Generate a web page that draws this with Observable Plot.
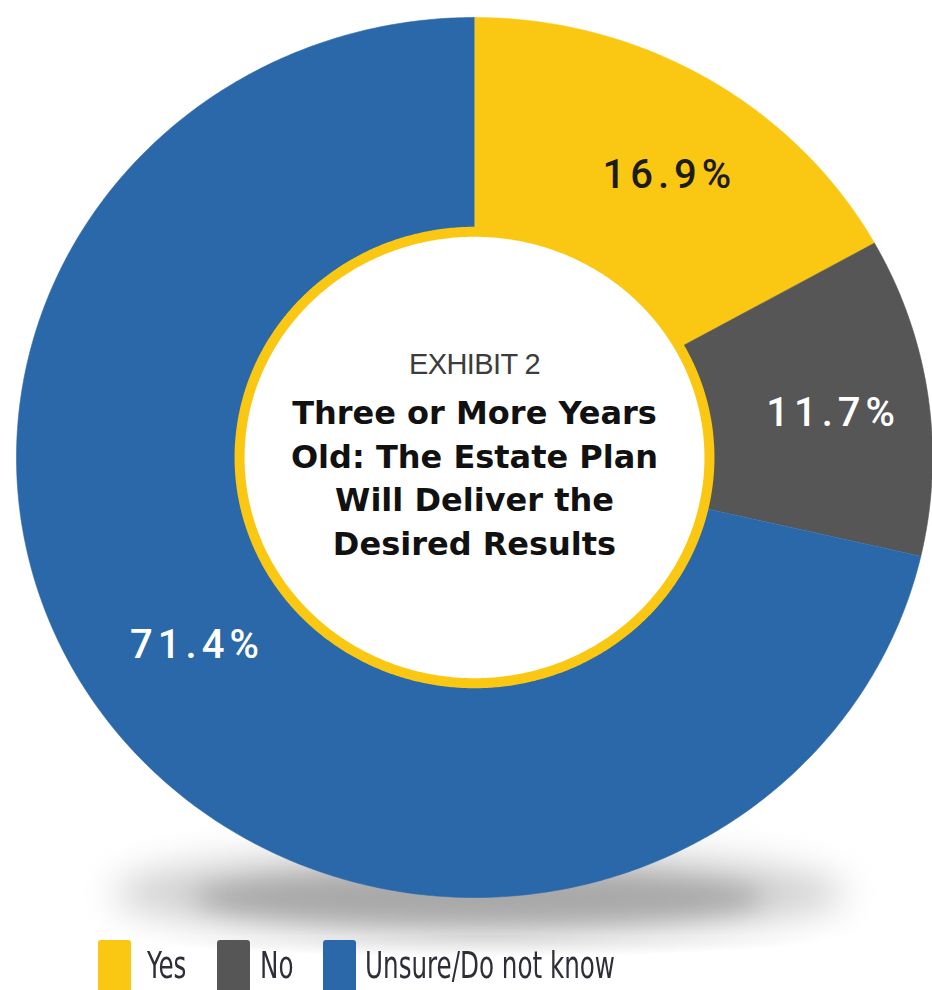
<!DOCTYPE html>
<html><head><meta charset="utf-8">
<script src="https://cdn.jsdelivr.net/npm/d3@7"></script>
<script src="https://cdn.jsdelivr.net/npm/@observablehq/plot@0.6"></script>
<style>
html,body{margin:0;padding:0;background:#fff;width:932px;height:990px;overflow:hidden;}
#chart{position:relative;width:932px;height:935px;}
#legend{position:relative;width:932px;height:55px;overflow:hidden;background:radial-gradient(ellipse 360px 22px at 482px 0px,#d4d4d4,#ffffff);}
.sw{position:absolute;top:5px;width:33px;height:52px;border-radius:3px;}
.lt{position:absolute;top:11px;font-family:"Liberation Sans Narrow","DejaVu Sans Condensed",sans-serif;font-size:38px;line-height:38px;color:#2e2e38;transform:scaleX(0.72);transform-origin:0 0;white-space:nowrap;}
</style></head><body>
<div id="chart"></div><div id="legend"></div>
<script>
// ---- data ----
const categories = ["Yes", "No", "Unsure/Do not know"];
const shares = [16.9, 11.7, 71.4];
const shareLabels = ["16.9%", "11.7%", "71.4%"];
const kicker = "EXHIBIT 2";
const titleLines = ["Three or More Years", "Old: The Estate Plan", "Will Deliver the", "Desired Results"];
// ---- styles ----
const colors = ["#FAC713", "#565656", "#2B68A9"];
const labelColors = ["#1c1c1c", "#ffffff", "#ffffff"];

const total = d3.sum(shares);
const bounds = [0, ...d3.cumsum(shares)].map(v => v / total * 2 * Math.PI);
const slices = categories.map((c, i) => ({cat: c, a0: bounds[i], a1: bounds[i + 1], value: shares[i], label: shareLabels[i]}));

function arc(a0, a1, rx, ry, cx = 0, cy = 0) {
  const n = Math.max(2, Math.ceil((a1 - a0) / (Math.PI / 360)));
  return d3.range(n + 1).map(k => {
    const a = a0 + (a1 - a0) * k / n;
    return {x: cx + rx * Math.sin(a), y: cy + ry * Math.cos(a)};
  });
}
const slicePolys = slices.map(s => [{x: 0, y: 0}, ...arc(s.a0, s.a1, 1, 1)]);
const innerRing = arc(0, 2 * Math.PI, 0.513, 0.513);
const shadowOuter = arc(0, 2 * Math.PI, 0.80, 0.10, 0.01, -0.99);
const shadowInner = arc(0, 2 * Math.PI, 0.62, 0.06, 0.01, -1.0);

const mid = s => (s.a0 + s.a1) / 2;
const lr = 0.78;
const lx = s => lr * Math.sin(mid(s));
const ly = s => lr * Math.cos(mid(s));
const pctStyle = {x: lx, y: ly, text: "label", fontSize: 40, fontFamily: "Roboto, 'Liberation Sans', sans-serif", fontWeight: 500};

const plot = Plot.plot({
  width: 932, height: 935, margin: 0,
  x: {domain: [-1, 1], range: [16, 932], axis: null},
  y: {domain: [-1, 1], range: [897, 17], axis: null},
  marks: [
    Plot.line(shadowOuter, {x: "x", y: "y", fill: "#d0d0d0", stroke: "none", imageFilter: "blur(18px)"}),
    Plot.line(shadowInner, {x: "x", y: "y", fill: "#a8a8a8", stroke: "none", imageFilter: "blur(12px)"}),
    ...slicePolys.map((poly, i) => Plot.line(poly, {x: "x", y: "y", fill: colors[i], stroke: colors[i], strokeWidth: 0.6})),
    Plot.line(innerRing, {x: "x", y: "y", fill: "#ffffff", stroke: colors[0], strokeWidth: 10}),
    Plot.text(slices.filter(s => s.cat === "Yes"), {...pctStyle, fill: labelColors[0], dx: 14, dy: 14}),
    Plot.text(slices.filter(s => s.cat === "No"), {...pctStyle, fill: labelColors[1], dx: 5, dy: 4}),
    Plot.text(slices.filter(s => s.cat === "Unsure/Do not know"), {...pctStyle, fill: labelColors[2], dx: 2, dy: -26}),
    Plot.text([kicker], {x: () => 0, y: () => 0, text: d => d, dy: -93, fontSize: 29, fontFamily: "'Liberation Sans', Arial, sans-serif", fill: "#3c3c3c"}),
    Plot.text([titleLines.join("\n")], {x: () => 0, y: () => 0, text: d => d, dy: 18, lineHeight: 1.36, fontSize: 32, fontWeight: "bold", fontFamily: "'DejaVu Sans', sans-serif", fill: "#111"})
  ]
});
// letter spacing for the percentage labels and the kicker
d3.select(plot).selectAll("text").each(function() {
  const t = this.textContent;
  if (shareLabels.includes(t)) this.style.letterSpacing = "5px";
  if (t === kicker) this.style.letterSpacing = "-0.6px";
});
document.getElementById("chart").appendChild(plot);

// ---- legend ----
const legend = document.getElementById("legend");
const swLeft = [98, 217, 323];
const txtLeft = [147, 260, 365];
categories.forEach((c, i) => {
  const sw = document.createElement("div");
  sw.className = "sw"; sw.style.left = swLeft[i] + "px"; sw.style.background = colors[i];
  legend.appendChild(sw);
  const t = document.createElement("div");
  t.className = "lt"; t.style.left = txtLeft[i] + "px"; t.textContent = c;
  legend.appendChild(t);
});
</script>
</body></html>
